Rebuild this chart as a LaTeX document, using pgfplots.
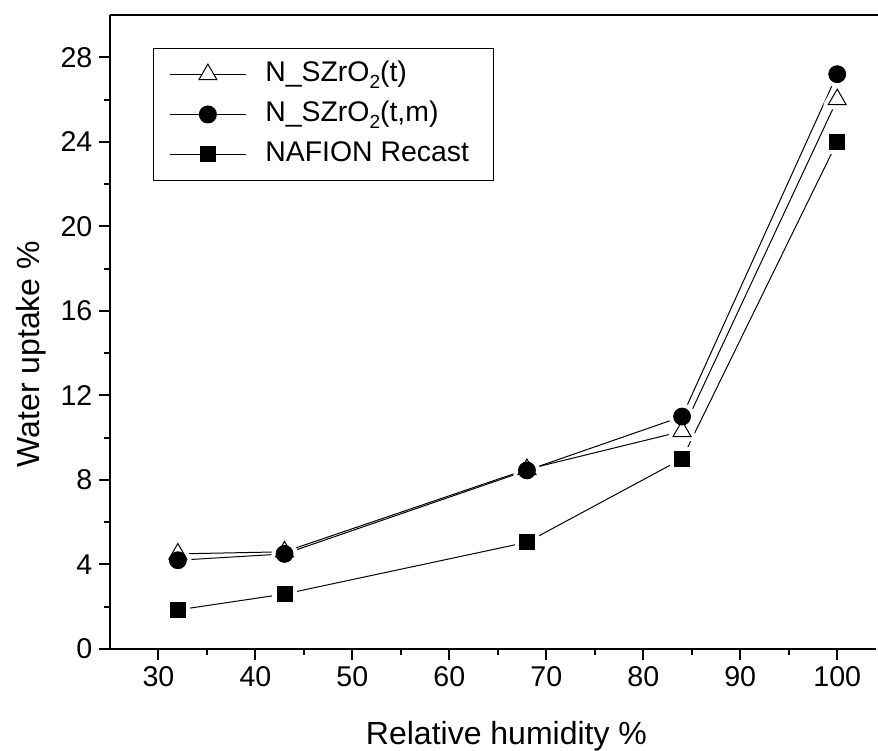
\documentclass[border=0pt]{standalone}
\usepackage{fontspec}
\setmainfont{Liberation Sans}
\usepackage{pgfplots}
\pgfplotsset{compat=1.18}

\pgfplotstableread{
rh   t     tm    naf
32   4.5   4.2   1.85
43   4.6   4.5   2.6
68   8.5   8.45  5.05
84   10.3  11.0  9.0
100  26.0  27.2  24.0
}\uptake

\newcommand{\sub}[1]{\raisebox{-0.45ex}{\fontsize{9.5}{10}\selectfont #1}}

\begin{document}
\begin{tikzpicture}
\path[use as bounding box] (-55pt,-50.5pt) rectangle (384pt,324.5pt);
\begin{axis}[
    scale only axis,
    width=383pt, height=317pt,
    xmin=25, xmax=104, ymin=0, ymax=30,
    xtick={30,40,...,100}, ytick={0,4,...,28},
    minor x tick num=1, minor y tick num=1,
    axis lines*=left,
    axis line style={line width=1.2pt},
    tick align=outside,
    major tick length=5.3pt, minor tick length=3pt,
    tick style={line width=1pt, black},
    ticklabel style={font=\fontsize{14.3}{16}\selectfont},
    /pgf/number format/assume math mode=true,
    xlabel={Relative humidity \%},
    ylabel={Water uptake \%},
    label style={font=\fontsize{16}{18}\selectfont},
    xlabel style={at={(axis description cs:0.5176,-0.1514)}, anchor=base},
    ylabel style={at={(axis description cs:-0.0914,0.465)}, rotate=0, anchor=base},
    clip=false,
    legend cell align=left,
    legend image code/.code={\draw[mark repeat=2,mark phase=2,#1] plot coordinates {(0pt,0pt) (19pt,0pt) (38pt,0pt)};},
    legend style={at={(axis description cs:0.056,0.948)}, anchor=north west,
        draw=black, line width=0.5pt, inner xsep=8pt, inner ysep=3pt,
        column sep=5pt,
        font=\fontsize{14.2}{16}\selectfont,
        nodes={text height=10pt, text depth=3pt, inner ysep=3.5pt, inner xsep=4.5pt}},
]
% lines first (with legend entries)
\addplot[black, line width=0.5pt, mark=triangle*, mark size=5.2pt,
    mark options={fill=white, line width=0.5pt}] table[x=rh, y=t] {\uptake};
\addlegendentry{N\_SZrO\sub{2}(t)}
\addplot[black, line width=0.5pt, mark=*, mark size=4.25pt] table[x=rh, y=tm] {\uptake};
\addlegendentry{N\_SZrO\sub{2}(t,m)}
\addplot[black, line width=0.5pt, mark=square*, mark size=3.75pt] table[x=rh, y=naf] {\uptake};
\addlegendentry{NAFION Recast}
% white halos so the lines stop short of the markers
\addplot[only marks, forget plot, mark=triangle*, mark size=5.2pt,
    mark options={draw=white, fill=white, line width=4.6pt, line join=round}] table[x=rh, y=t] {\uptake};
\addplot[only marks, forget plot, mark=*, mark size=4.25pt,
    mark options={draw=white, fill=white, line width=4.6pt}] table[x=rh, y=tm] {\uptake};
\addplot[only marks, forget plot, mark=square*, mark size=3.75pt,
    mark options={draw=white, fill=white, line width=4.6pt, line join=round}] table[x=rh, y=naf] {\uptake};
% markers on top
\addplot[only marks, forget plot, black, mark=triangle*, mark size=5.2pt,
    mark options={fill=white, line width=0.5pt}] table[x=rh, y=t] {\uptake};
\addplot[only marks, forget plot, black, mark=*, mark size=4.25pt] table[x=rh, y=tm] {\uptake};
\addplot[only marks, forget plot, black, mark=square*, mark size=3.75pt] table[x=rh, y=naf] {\uptake};
\draw[line width=1.2pt] (rel axis cs:0,1) -- (rel axis cs:1.01,1);
\end{axis}
\end{tikzpicture}
\end{document}
